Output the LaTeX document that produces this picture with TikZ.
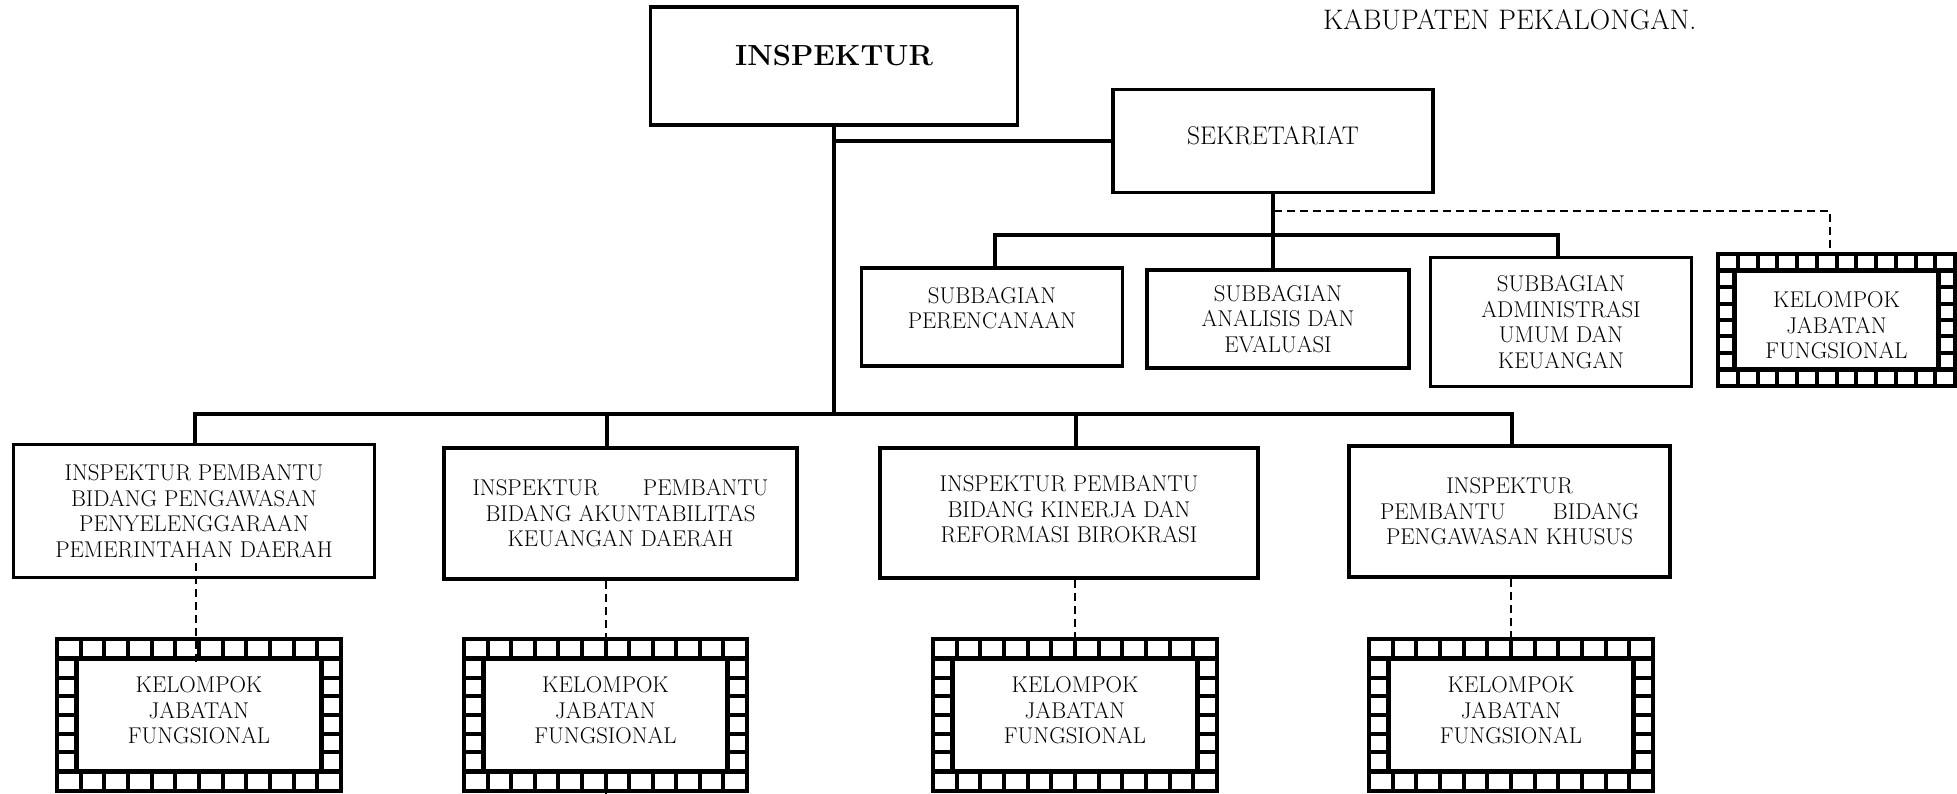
\documentclass[tikz,border=0pt]{standalone}
\usepackage{fontspec}
\usetikzlibrary{calc}
\newcommand\bodyfont{\fontsize{22.8}{25.5}\selectfont}
\newcommand\ml[1]{\begin{tabular}{@{}c@{}}#1\end{tabular}}
% shift text inside a centred node: up (extra depth) or down (extra height)
\newcommand\shiftup[2]{\raisebox{0pt}[\height][\dimexpr\depth+#1*2\relax]{#2}}
\newcommand\shiftdown[2]{\raisebox{0pt}[\dimexpr\height+#1*2\relax][\depth]{#2}}
% film-strip frame: x1 y1 x2 y2 band
\newcommand\kjfframe[5]{%
  \fill[black] (#1,#2) rectangle (#3,#4);
  \fill[white] ({#1+#5},{#2+#5}) rectangle ({#3-#5},{#4-#5});
  \pgfmathsetmacro\kpx{(#3-#1-4)/12}%
  \pgfmathsetmacro\kpy{(#4-#2-2*#5+4)/6}%
  \foreach \i in {0,...,11}{%
    \fill[white] ({#1+4+\i*\kpx},{#2+4}) rectangle ({#1+(\i+1)*\kpx},{#2+#5-5});
    \fill[white] ({#1+4+\i*\kpx},{#4-#5+5}) rectangle ({#1+(\i+1)*\kpx},{#4-4});
  }%
  \foreach \j in {0,...,5}{%
    \fill[white] ({#1+4},{#2+#5+\j*\kpy}) rectangle ({#1+#5-5},{#2+#5+(\j+1)*\kpy-4});
    \fill[white] ({#3-#5+5},{#2+#5+\j*\kpy}) rectangle ({#3-4},{#2+#5+(\j+1)*\kpy-4});
  }%
}
% name x1 y1 x2 y2 band text
\newcommand\kjf[6]{%
  \kjfframe{#2}{#3}{#4}{#5}{#6}%
  \node[kjfnode, minimum width={#4-#2}, minimum height={#5-#3}] (#1) at ({(#2+#4)/2},{(#3+#5)/2})
}
\begin{document}
\begin{tikzpicture}[x=1pt,y=-1pt,
  box/.style={draw, line width=3.5pt, inner sep=0pt, align=center, font=\bodyfont},
  kjfnode/.style={inner sep=0pt, align=center, font=\bodyfont},
  conn/.style={line width=3.2pt},
  dline/.style={line width=2pt, dash pattern=on 8pt off 5pt}]
\useasboundingbox (0,0) rectangle (1957,794);
\fill[white] (0,0) rectangle (1957,794);

% top
\node[box, minimum width=367, minimum height=118, font=\fontsize{29.1}{34}\selectfont\bfseries] (insp) at (834,66) {\shiftup{10pt}{INSPEKTUR}};
\node[box, minimum width=320, minimum height=103, font=\fontsize{25.5}{29}\selectfont] (sek) at (1273,141) {\shiftup{5pt}{SEKRETARIAT}};
\node[anchor=base west, inner sep=0pt, font=\fontsize{28.2}{32}\selectfont] (kab) at (1323,30) {KABUPATEN PEKALONGAN.};

% subbagian
\node[box, minimum width=261, minimum height=98] (sub1) at (992,317) {\shiftup{6pt}{\ml{SUBBAGIAN\\PERENCANAAN}}};
\node[box, minimum width=262, minimum height=98] (sub2) at (1278,319) {SUBBAGIAN\\ANALISIS DAN\\EVALUASI};
\node[box, minimum width=261, minimum height=129] (sub3) at (1561,322) {SUBBAGIAN\\ADMINISTRASI\\UMUM DAN\\KEUANGAN};

% inspektur pembantu
\node[box, minimum width=361, minimum height=133] (ipa) at (194,511) {INSPEKTUR PEMBANTU\\BIDANG PENGAWASAN\\PENYELENGGARAAN\\PEMERINTAHAN DAERAH};
\node[box, minimum width=353, minimum height=131] (ipb) at (620.5,513.5) {\makebox[296pt]{INSPEKTUR\hfill PEMBANTU}\\BIDANG AKUNTABILITAS\\KEUANGAN DAERAH};
\node[box, minimum width=378, minimum height=130] (ipc) at (1069,513) {\shiftup{1pt}{\ml{INSPEKTUR PEMBANTU\\BIDANG KINERJA DAN\\REFORMASI BIROKRASI}}};
\node[box, minimum width=321, minimum height=131] (ipd) at (1509.5,511.5) {INSPEKTUR\\\makebox[259pt]{PEMBANTU\hfill BIDANG}\\PENGAWASAN KHUSUS};

% kelompok jabatan fungsional
\kjf{ka}{55}{637}{343}{793}{24} {\shiftup{2pt}{\ml{KELOMPOK\\JABATAN\\FUNGSIONAL}}};
\kjf{kb}{462}{637}{749}{793}{24} {\shiftup{2pt}{\ml{KELOMPOK\\JABATAN\\FUNGSIONAL}}};
\kjf{kc}{931}{637}{1219}{793}{24} {\shiftup{2pt}{\ml{KELOMPOK\\JABATAN\\FUNGSIONAL}}};
\kjf{kd}{1367}{637}{1655}{793}{24} {\shiftup{2pt}{\ml{KELOMPOK\\JABATAN\\FUNGSIONAL}}};
\kjf{ktr}{1716}{252}{1957}{388}{21} {\shiftdown{8pt}{\ml{KELOMPOK\\JABATAN\\FUNGSIONAL}}};

% main connectors
\coordinate (ja) at (195,414);
\coordinate (jb) at (607,414);
\coordinate (jc) at (1076,414);
\coordinate (jd) at (1512,414);
\draw[conn] (insp.south) -- (insp.south |- ja);
\draw[conn] (ja |- ipa.north) -- (ja) -- (jd) -- (jd |- ipd.north);
\draw[conn] (jb) -- (jb |- ipb.north);
\draw[conn] (jc) -- (jc |- ipc.north);
\draw[conn] (sek.west) -- (sek.west -| insp.south);

% sekretariat connectors
\coordinate (sa) at (995,235);
\coordinate (sc) at (1558,235);
\draw[conn] (sek.south) -- (sek.south |- sub2.north);
\draw[conn] (sa |- sub1.north) -- (sa) -- (sc) -- (sc |- sub3.north);

% dashed lines
\coordinate (sd1) at (1274,211);
\coordinate (sd2) at (1830,211);
\draw[dline] (sd1) -- (sd2) -- (sd2 |- ktr.north);
\coordinate (da) at (196,563);
\coordinate (da2) at (196,663);
\draw[dline] (da) -- (da |- ka.north) -- (da2);
\draw[dline] (ipb.south -| kb.north) -- (kb.north);
\draw[dline] (kb.south) -- ++(0,4);
\draw[dline] (ipc.south -| kc.north) -- (kc.north);
\draw[dline] (ipd.south -| kd.north) -- (kd.north);
\end{tikzpicture}
\end{document}
